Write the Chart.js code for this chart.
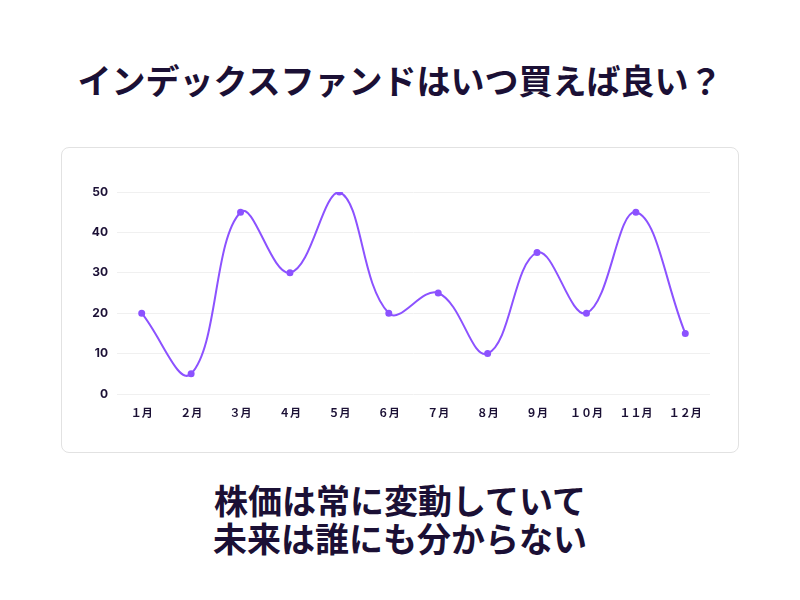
<!DOCTYPE html>
<html>
<head>
<meta charset="utf-8">
<script src="https://cdn.jsdelivr.net/npm/chart.js@4"></script>
<style>
  body { margin: 0; width: 800px; height: 600px; background: #fff; position: relative; overflow: hidden;
         font-family: "Noto Sans CJK JP", sans-serif; color: #1b1035; }
  h1 { position: absolute; top: 58px; left: 0; width: 800px; margin: 0; text-align: center;
       font-size: 34px; line-height: 44px; font-weight: 700; }
  .card { position: absolute; left: 61px; top: 147px; width: 676px; height: 304px;
          border: 1.5px solid #e2e2e2; border-radius: 8px; }
  #myChart { position: absolute; left: 0; top: 0; }
  .note { position: absolute; top: 481px; left: 0; width: 800px; text-align: center;
          font-size: 34px; line-height: 38px; font-weight: 700; margin: 0; }
</style>
</head>
<body>
<h1>インデックスファンドはいつ買えば良い？</h1>
<div class="card"><canvas id="myChart" width="676" height="304"></canvas></div>
<p class="note">株価は常に変動していて<br>未来は誰にも分からない</p>
<script>
// Chart data
const months = ['１月', '２月', '３月', '４月', '５月', '６月', '７月', '８月', '９月', '１０月', '１１月', '１２月'];
const values = [20, 5, 45, 30, 50, 20, 25, 10, 35, 20, 45, 15];
const yTicks = [0, 10, 20, 30, 40, 50];

const ctx = document.getElementById('myChart').getContext('2d');
const myChart = new Chart(ctx, {
    type: 'line',
    data: {
        labels: months,
        datasets: [{
            data: values,
            borderColor: '#8c52ff',
            backgroundColor: '#8c52ff',
            borderWidth: 2,
            tension: 0.4,
            pointRadius: 2.5,
            pointHoverRadius: 2.5,
            fill: false,
        }],
    },
    options: {
        responsive: false,
        animation: false,
        layout: { padding: { left: 0, right: 28, top: 0, bottom: 0 } },
        plugins: { legend: { display: false }, tooltip: { enabled: false } },
        scales: {
            x: {
                offset: true,
                grid: { display: false },
                border: { display: false },
                ticks: { color: '#1b1035', font: { size: 11, weight: 'bold', family: '"Noto Sans CJK JP"' }, padding: 4, maxRotation: 0 },
                afterFit: s => { s.height = 58; },
            },
            y: {
                min: 0,
                max: 50,
                afterBuildTicks: s => { s.ticks = yTicks.map(v => ({ value: v })); },
                grid: { color: '#f0f0f0', drawTicks: false },
                border: { display: false },
                ticks: { color: '#1b1035', font: { size: 12, weight: 'bold', family: 'Inter' }, padding: 9 },
                afterFit: s => { s.width = 55; },
            },
        },
    },
    plugins: [{
        id: 'topPad',
        beforeLayout: c => { c.options.layout.padding.top = 44; },
    }],
});
</script>
</body>
</html>
